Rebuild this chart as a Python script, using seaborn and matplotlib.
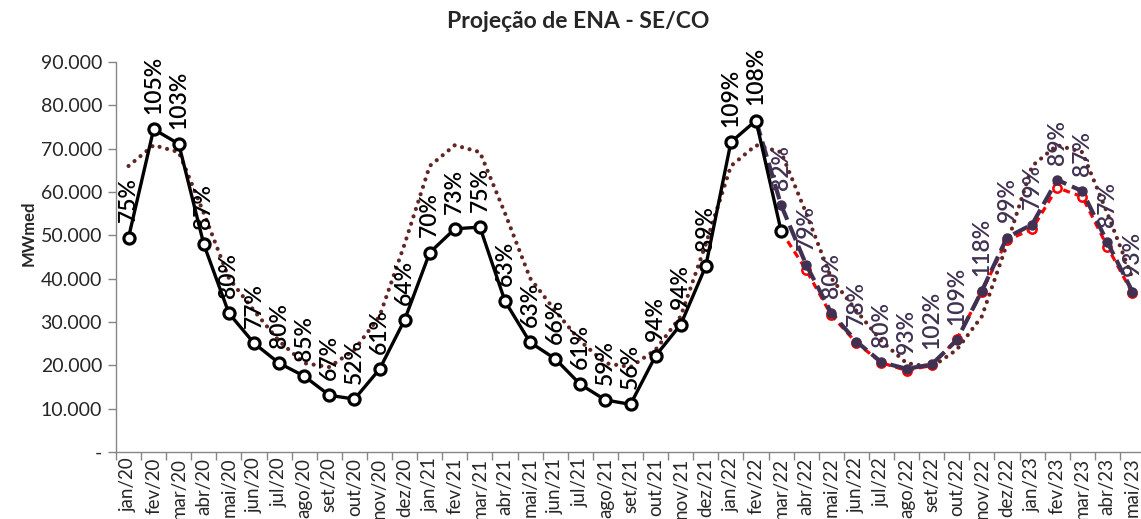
import matplotlib
matplotlib.use("Agg")
import matplotlib.pyplot as plt
import numpy as np
import pandas as pd
import seaborn as sns
from matplotlib.ticker import FixedLocator, FuncFormatter

# meses do eixo x
meses = [
    "jan/20", "fev/20", "mar/20", "abr/20", "mai/20", "jun/20", "jul/20", "ago/20", "set/20", "out/20", "nov/20", "dez/20",
    "jan/21", "fev/21", "mar/21", "abr/21", "mai/21", "jun/21", "jul/21", "ago/21", "set/21", "out/21", "nov/21", "dez/21",
    "jan/22", "fev/22", "mar/22", "abr/22", "mai/22", "jun/22", "jul/22", "ago/22", "set/22", "out/22", "nov/22", "dez/22",
    "jan/23", "fev/23", "mar/23", "abr/23", "mai/23",
]

# ENA verificada (jan/20 .. mar/22)
ena_verificada = [
    49500, 74500, 71100, 47900, 32000, 25100, 20500, 17500, 13100, 12200, 19100, 30500,
    46000, 51500, 51900, 34800, 25300, 21500, 15600, 12000, 11000, 22200, 29400, 42900,
    71500, 76500, 51000,
]
pct_verificada = [75, 105, 103, 87, 80, 77, 80, 85, 67, 52, 61, 64,
                  70, 73, 75, 63, 63, 66, 61, 59, 56, 94, 94, 89,
                  109, 108]

# MLT (linha pontilhada)
mlt = [
    66000, 70800, 69200, 55100, 40100, 32600, 25600, 20500, 19600, 23600, 31300, 48000,
    66000, 70800, 69200, 55100, 40100, 32600, 25600, 20500, 19600, 23600, 31300, 48000,
    66000, 70800, 69200, 55100, 40100, 32600, 25600, 20500, 19600, 23600, 31300, 48000,
    66000, 70800, 69200, 55100, 40100,
]

# projecao (fev/22 .. mai/23)
projecao = [76500, 57000, 43200, 32100, 25500, 20700, 19200, 20200, 25800, 37200, 49500,
            52500, 62800, 60200, 48400, 37000]
pct_projecao = [82, 79, 80, 78, 80, 93, 102, 109, 118, 99, 79, 89, 87, 87, 93]

# projecao anterior (mar/22 .. mai/23)
projecao_ant = [51000, 42000, 31600, 25200, 20600, 18800, 20000, 26000, 37000, 48900,
                51400, 61000, 58900, 47400, 36600]

sns.set_style("white")
plt.rcParams["font.family"] = ["Lato", "DejaVu Sans"]

COR_PROJ = "#403152"
COR_MLT = "#632523"

df_ver = pd.DataFrame({"x": np.arange(len(ena_verificada)), "y": ena_verificada})
df_mlt = pd.DataFrame({"x": np.arange(len(mlt)), "y": mlt})
df_proj = pd.DataFrame({"x": np.arange(25, 25 + len(projecao)), "y": projecao})
df_ant = pd.DataFrame({"x": np.arange(26, 26 + len(projecao_ant)), "y": projecao_ant})

fig = plt.figure(figsize=(11.41, 5.19), dpi=100)
ax = fig.add_axes([116 / 1141, 67 / 519, 1029 / 1141, 390 / 519])

sns.lineplot(data=df_mlt, x="x", y="y", ax=ax, color=COR_MLT, linewidth=3.0,
             linestyle=(0, (0.01, 1.85)), dash_capstyle="round", errorbar=None)
sns.lineplot(data=df_ant, x="x", y="y", ax=ax, color="#FF0000", linewidth=2.3,
             linestyle=(0, (2.2, 1.6)), marker="o", markersize=6, markerfacecolor="white",
             markeredgecolor="#FF0000", markeredgewidth=1.8, errorbar=None)
sns.lineplot(data=df_proj, x="x", y="y", ax=ax, color=COR_PROJ, linewidth=3.0,
             linestyle=(0, (3.8, 1.5)), marker="o", markersize=6.5, markerfacecolor=COR_PROJ,
             markeredgecolor=COR_PROJ, markeredgewidth=1, errorbar=None)
sns.lineplot(data=df_ver, x="x", y="y", ax=ax, color="black", linewidth=2.4,
             marker="o", markersize=8, markerfacecolor="white",
             markeredgecolor="black", markeredgewidth=2.3, errorbar=None)

# rotulos de percentual da MLT
for i, p in enumerate(pct_verificada):
    ax.annotate(f"{p}%", (i, ena_verificada[i]), xytext=(0, 11), textcoords="offset points",
                rotation=90, ha="center", va="bottom", fontsize=16.5, fontweight="semibold",
                color="black")
for j, p in enumerate(pct_projecao):
    ax.annotate(f"{p}%", (26 + j, projecao[j + 1]), xytext=(0, 11), textcoords="offset points",
                rotation=90, ha="center", va="bottom", fontsize=16.5, fontweight="semibold",
                color=COR_PROJ)

ax.set_xlim(-0.5, len(meses) - 0.5)
ax.set_ylim(0, 90000)
ax.set_yticks(np.arange(0, 90001, 10000))
ax.yaxis.set_major_formatter(FuncFormatter(lambda v, _: "-" if v == 0 else f"{int(v):,}".replace(",", ".")))

ax.xaxis.set_major_locator(FixedLocator(np.arange(-0.5, len(meses), 1)))
ax.xaxis.set_major_formatter(FuncFormatter(lambda v, _: ""))
ax.xaxis.set_minor_locator(FixedLocator(np.arange(len(meses))))
ax.set_xticklabels(meses, minor=True, rotation=90)

ax.tick_params(axis="x", which="major", direction="out", length=6, width=1, color="#868686")
ax.tick_params(axis="x", which="minor", length=0, pad=4, labelsize=13.5)
ax.tick_params(axis="y", direction="out", length=6, width=1, color="#868686", pad=4, labelsize=14)
ax.tick_params(left=True, bottom=True)

for s in ["top", "right"]:
    ax.spines[s].set_visible(False)
for s in ["left", "bottom"]:
    ax.spines[s].set_color("#868686")
    ax.spines[s].set_linewidth(1)

ax.set_xlabel("")
ax.set_ylabel("")
fig.text(29 / 1141, 1 - 233 / 519, "MWmed", rotation=90, ha="center", va="center",
         fontsize=12, fontweight="bold")
fig.text(578 / 1141, 1 - 22 / 519, "Projeção de ENA - SE/CO", ha="center", va="center",
         fontsize=16.5, fontweight="bold")

fig.savefig("out.png", dpi=100)
